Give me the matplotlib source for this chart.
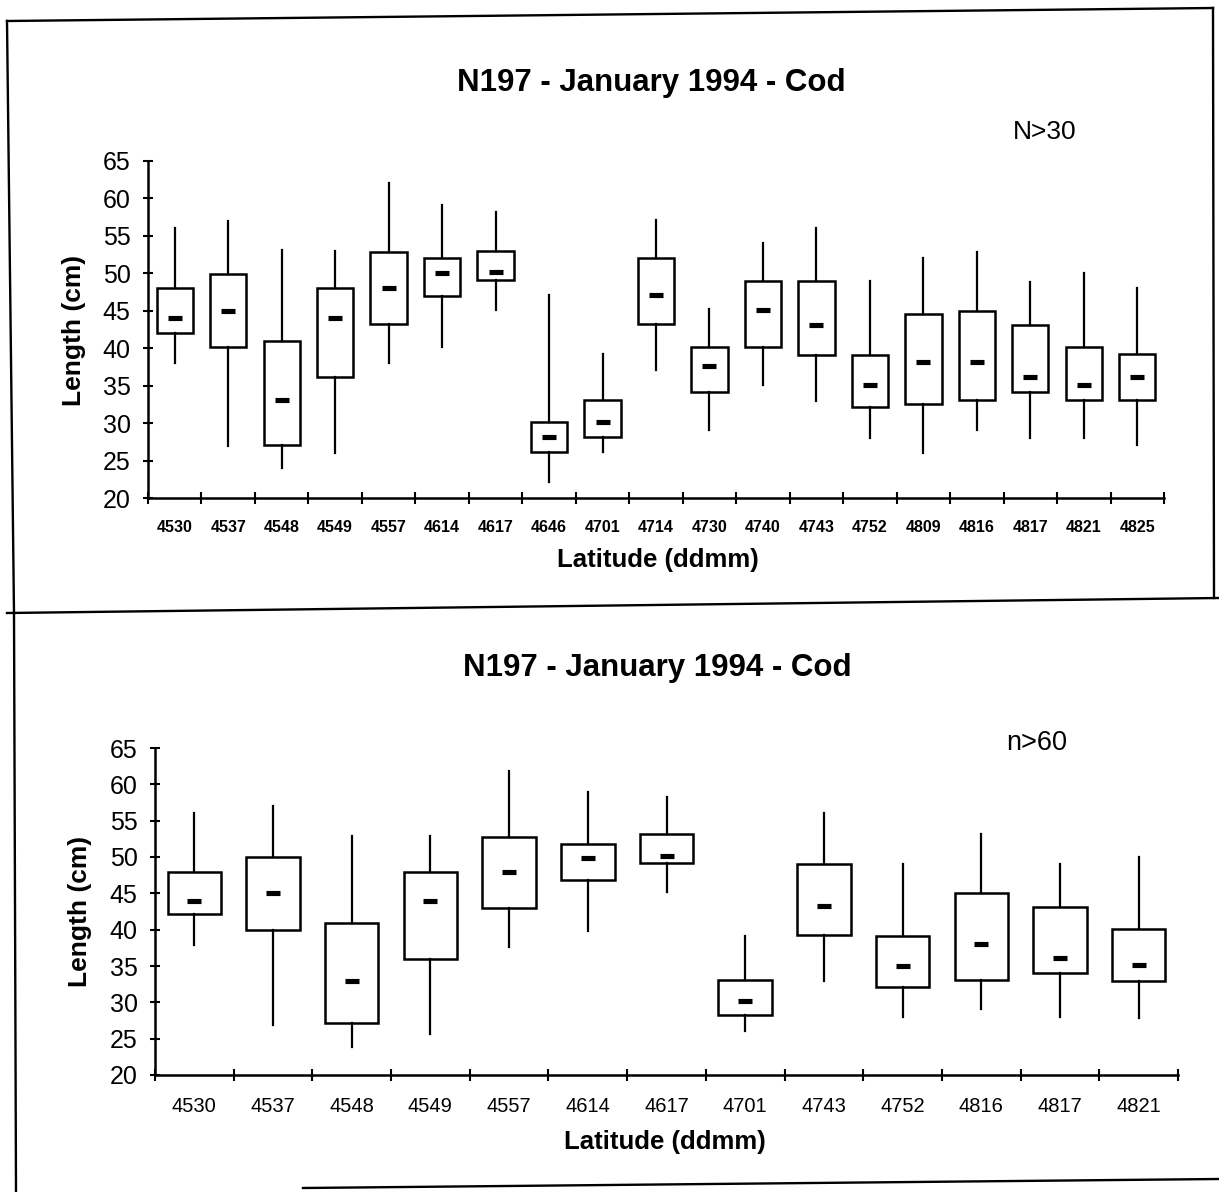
import matplotlib
matplotlib.use('Agg')
import matplotlib.pyplot as plt
from matplotlib.lines import Line2D
import numpy as np

plt.rcParams['font.family'] = ['Liberation Sans', 'DejaVu Sans']

# ---------------- data: top panel (N>30) ----------------
stations_n30 = ['4530', '4537', '4548', '4549', '4557', '4614', '4617', '4646', '4701', '4714',
                '4730', '4740', '4743', '4752', '4809', '4816', '4817', '4821', '4825']
lo_n30  = [38.0, 27.0, 24.0, 26.0, 38.0, 40.1, 45.1, 22.1, 26.2, 37.1, 29.1, 35.1, 33.0, 28.0, 26.0, 29.1, 28.0, 28.0, 27.1]
q1_n30  = [42.0, 40.1, 27.1, 36.1, 43.2, 47.0, 49.1, 26.2, 28.2, 43.2, 34.2, 40.2, 39.1, 32.1, 32.6, 33.1, 34.1, 33.1, 33.1]
med_n30 = [44.0, 45.0, 33.1, 44.0, 48.0, 50.0, 50.2, 28.2, 30.2, 47.1, 37.6, 45.1, 43.1, 35.1, 38.1, 38.1, 36.1, 35.1, 36.1]
q3_n30  = [48.0, 49.9, 41.0, 48.0, 52.9, 52.0, 53.0, 30.2, 33.1, 52.1, 40.2, 49.0, 49.0, 39.1, 44.6, 45.0, 43.1, 40.2, 39.2]
hi_n30  = [56.0, 57.0, 53.1, 53.0, 62.0, 59.1, 58.2, 47.1, 39.2, 57.1, 45.2, 54.0, 56.0, 49.0, 52.0, 52.9, 48.9, 50.0, 48.0]

# ---------------- data: bottom panel (n>60) ----------------
stations_n60 = ['4530', '4537', '4548', '4549', '4557', '4614', '4617', '4701', '4743', '4752',
                '4816', '4817', '4821']
lo_n60  = [37.9, 26.9, 23.8, 25.7, 37.6, 39.8, 45.2, 26.1, 32.9, 28.0, 29.1, 28.0, 27.9]
q1_n60  = [42.1, 40.0, 27.1, 35.9, 43.0, 46.9, 49.2, 28.2, 39.2, 32.1, 33.1, 34.1, 33.0]
med_n60 = [44.0, 45.0, 32.9, 43.9, 47.9, 49.9, 50.2, 30.2, 43.2, 35.0, 38.0, 36.1, 35.1]
q3_n60  = [48.0, 50.0, 40.9, 47.9, 52.8, 51.8, 53.1, 33.1, 49.1, 39.1, 45.1, 43.1, 40.1]
hi_n60  = [56.0, 57.0, 52.9, 52.9, 61.9, 58.9, 58.2, 39.1, 56.1, 49.1, 53.1, 49.1, 50.0]

title_text = 'N197 - January 1994 - Cod'
ylabel_text = 'Length (cm)'
xlabel_text = 'Latitude (ddmm)'
yticks = [20, 25, 30, 35, 40, 45, 50, 55, 60, 65]

W, H = 1219, 1192
fig = plt.figure(figsize=(W / 100, H / 100), dpi=100)


def fx(px):
    return px / W


def fy(py):
    return 1 - py / H


def rect(left, top, right, bottom):
    return [fx(left), fy(bottom), fx(right) - fx(left), fy(top) - fy(bottom)]


def panel(r, stations, lo, q1, med, q3, hi, xfs, xweight):
    ax = fig.add_axes(r)
    n = len(stations)
    pos = np.arange(n) + 0.5
    stats = [dict(whislo=a, q1=b, med=c, q3=d, whishi=e, fliers=[])
             for a, b, c, d, e in zip(lo, q1, med, q3, hi)]
    ax.bxp(stats, positions=pos, widths=0.68, showcaps=False, showfliers=False,
           patch_artist=True,
           boxprops=dict(facecolor='white', edgecolor='black', linewidth=1.8),
           whiskerprops=dict(color='black', linewidth=1.6),
           medianprops=dict(linewidth=0, color='none'))
    ax.plot(pos, med, ls='none', marker='_', ms=9.5, mew=3.7, color='black', zorder=5)
    ax.set_xlim(0, n)
    ax.set_ylim(20, 65)
    for s in ['top', 'right']:
        ax.spines[s].set_visible(False)
    for s in ['left', 'bottom']:
        ax.spines[s].set_linewidth(1.8)
    ax.set_yticks(yticks)
    ax.set_yticklabels([str(t) for t in yticks], fontsize=18)
    ax.tick_params(axis='y', direction='inout', length=7, width=1.5, pad=9)
    ax.set_xticks(np.arange(n + 1))
    ax.set_xticklabels([])
    ax.tick_params(axis='x', which='major', direction='inout', length=9, width=1.5)
    ax.set_xticks(pos, minor=True)
    ax.set_xticklabels(stations, minor=True, fontsize=xfs, fontweight=xweight)
    ax.tick_params(axis='x', which='minor', length=0, pad=16)
    ax.set_facecolor('none')
    return ax


# top panel
ax1 = panel(rect(148, 161, 1164, 498), stations_n30, lo_n30, q1_n30, med_n30, q3_n30, hi_n30,
            11.5, 'bold')
fig.text(fx(651), fy(83), title_text, fontsize=22.5, fontweight='bold', ha='center', va='center')
fig.text(fx(1045), fy(132), 'N>30', fontsize=19, ha='center', va='center')
fig.text(fx(74), fy(330), ylabel_text, fontsize=19, fontweight='bold', rotation=90,
         ha='center', va='center')
fig.text(fx(658), fy(560), xlabel_text, fontsize=18.5, fontweight='bold', ha='center', va='center')

# bottom panel
ax2 = panel(rect(155, 748, 1178, 1075), stations_n60, lo_n60, q1_n60, med_n60, q3_n60, hi_n60,
            14.5, 'normal')
fig.text(fx(657), fy(668), title_text, fontsize=22.5, fontweight='bold', ha='center', va='center')
fig.text(fx(1037), fy(743), 'n>60', fontsize=19.5, ha='center', va='center')
fig.text(fx(80), fy(911), ylabel_text, fontsize=19, fontweight='bold', rotation=90,
         ha='center', va='center')
fig.text(fx(665), fy(1142), xlabel_text, fontsize=18.5, fontweight='bold', ha='center', va='center')

# page frame lines (scanned page is slightly rotated)
frame = [
    ((7, 1213), (21, 8)),        # top border of upper panel
    ((7, 14), (21, 613)),        # left border of upper panel
    ((1213, 1214), (8, 598)),    # right border of upper panel
    ((7, 1219), (613, 598)),     # separator
    ((14, 16), (613, 1192)),     # left border of lower panel
    ((303, 1219), (1188, 1179)),  # bottom line
]
for (xs, ys) in frame:
    fig.add_artist(Line2D([fx(x) for x in xs], [fy(y) for y in ys], color='black',
                          linewidth=1.7, transform=fig.transFigure))

fig.savefig('out.png', dpi=100, facecolor='white')
